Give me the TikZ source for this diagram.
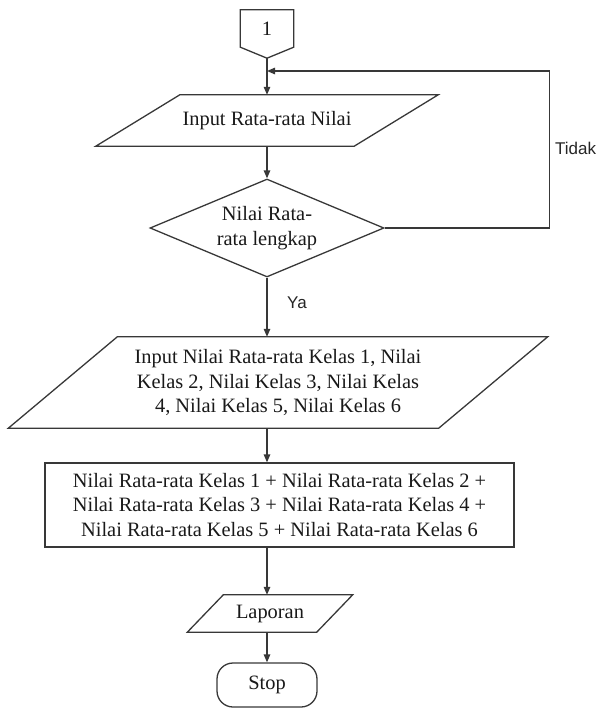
\documentclass[tikz,border=0pt]{standalone}
\usepackage{fontspec}
\setmainfont{Liberation Serif}
\newfontfamily\labfont{Liberation Sans}
\usetikzlibrary{shapes.geometric,arrows.meta,calc}
\begin{document}
\begin{tikzpicture}[x=1pt,y=-1pt]
\tikzset{
 ln/.style={draw=black!78, line width=1.3pt},
 arr/.style={draw=black!78, line width=1.3pt, -{Triangle[length=8pt,width=6.5pt]}},
 txt/.style={inner sep=0pt, align=center, text=black!90, font=\fontsize{20.4}{24.5}\selectfont},
 lab/.style={inner sep=0pt, text=black!85, font=\labfont\fontsize{17}{20}\selectfont},
}
\useasboundingbox (0,0) rectangle (598,709);
% off-page connector
\node[txt, minimum width=53pt, minimum height=37pt] (c1) at (267,28.5) {1};
\coordinate (c1tip) at ([yshift=-11pt]c1.south);
\draw[ln] (c1.north west) -- (c1.north east) -- (c1.south east) -- (c1tip) -- (c1.south west) -- cycle;
% input 1
\node[txt, minimum width=258pt, minimum height=51pt] (in1) at (267,120.5) {Input Rata-rata Nilai};
\draw[ln] ([xshift=42pt]in1.north west) -- ([xshift=42pt]in1.north east) -- ([xshift=-42pt]in1.south east) -- ([xshift=-42pt]in1.south west) -- cycle;
% decision
\node[txt, ln, diamond, aspect=2.4, minimum width=234pt, minimum height=98pt] (d1) at (267,228) {Nilai Rata-\\rata lengkap};
% input 2
\node[txt, minimum width=430pt, minimum height=91pt] (in2) at (278,382.5) {Input Nilai Rata-rata Kelas 1, Nilai\\Kelas 2, Nilai Kelas 3, Nilai Kelas\\4, Nilai Kelas 5, Nilai Kelas 6};
\draw[ln] ([xshift=54.5pt]in2.north west) -- ([xshift=54.5pt]in2.north east) -- ([xshift=-54.5pt]in2.south east) -- ([xshift=-54.5pt]in2.south west) -- cycle;
% process
\node[txt, ln, minimum width=469pt, minimum height=84pt] (r1) at (279.5,505) {Nilai Rata-rata Kelas 1 + Nilai Rata-rata Kelas 2 +\\Nilai Rata-rata Kelas 3 + Nilai Rata-rata Kelas 4 +\\Nilai Rata-rata Kelas 5 + Nilai Rata-rata Kelas 6};
% output
\node[txt, minimum width=129pt, minimum height=37pt] (lap) at (270,613.5) {Laporan};
\draw[ln] ([xshift=18pt]lap.north west) -- ([xshift=18pt]lap.north east) -- ([xshift=-18pt]lap.south east) -- ([xshift=-18pt]lap.south west) -- cycle;
% stop
\node[txt, ln, rounded corners=16pt, minimum width=100pt, minimum height=44pt] (stop) at (267,685) {Stop};
% connectors
\coordinate (loopin) at (267,71);
\draw[arr] (c1tip) -- (in1.north);
\draw[arr] (in1.south) -- (d1.north);
\draw[arr] (d1.south) -- (d1.south |- in2.north);
\draw[arr] (d1.south |- in2.south) -- (d1.south |- r1.north);
\draw[arr] (d1.south |- r1.south) -- (d1.south |- lap.north);
\draw[arr] (d1.south |- lap.south) -- (stop.north);
\draw[arr] (d1.east) -- ++(165,0) |- (loopin);
% labels
\node[lab, anchor=west] (tidak) at (555,148) {Tidak};
\node[lab, anchor=west] (ya) at (287,303) {Ya};
\end{tikzpicture}
\end{document}
